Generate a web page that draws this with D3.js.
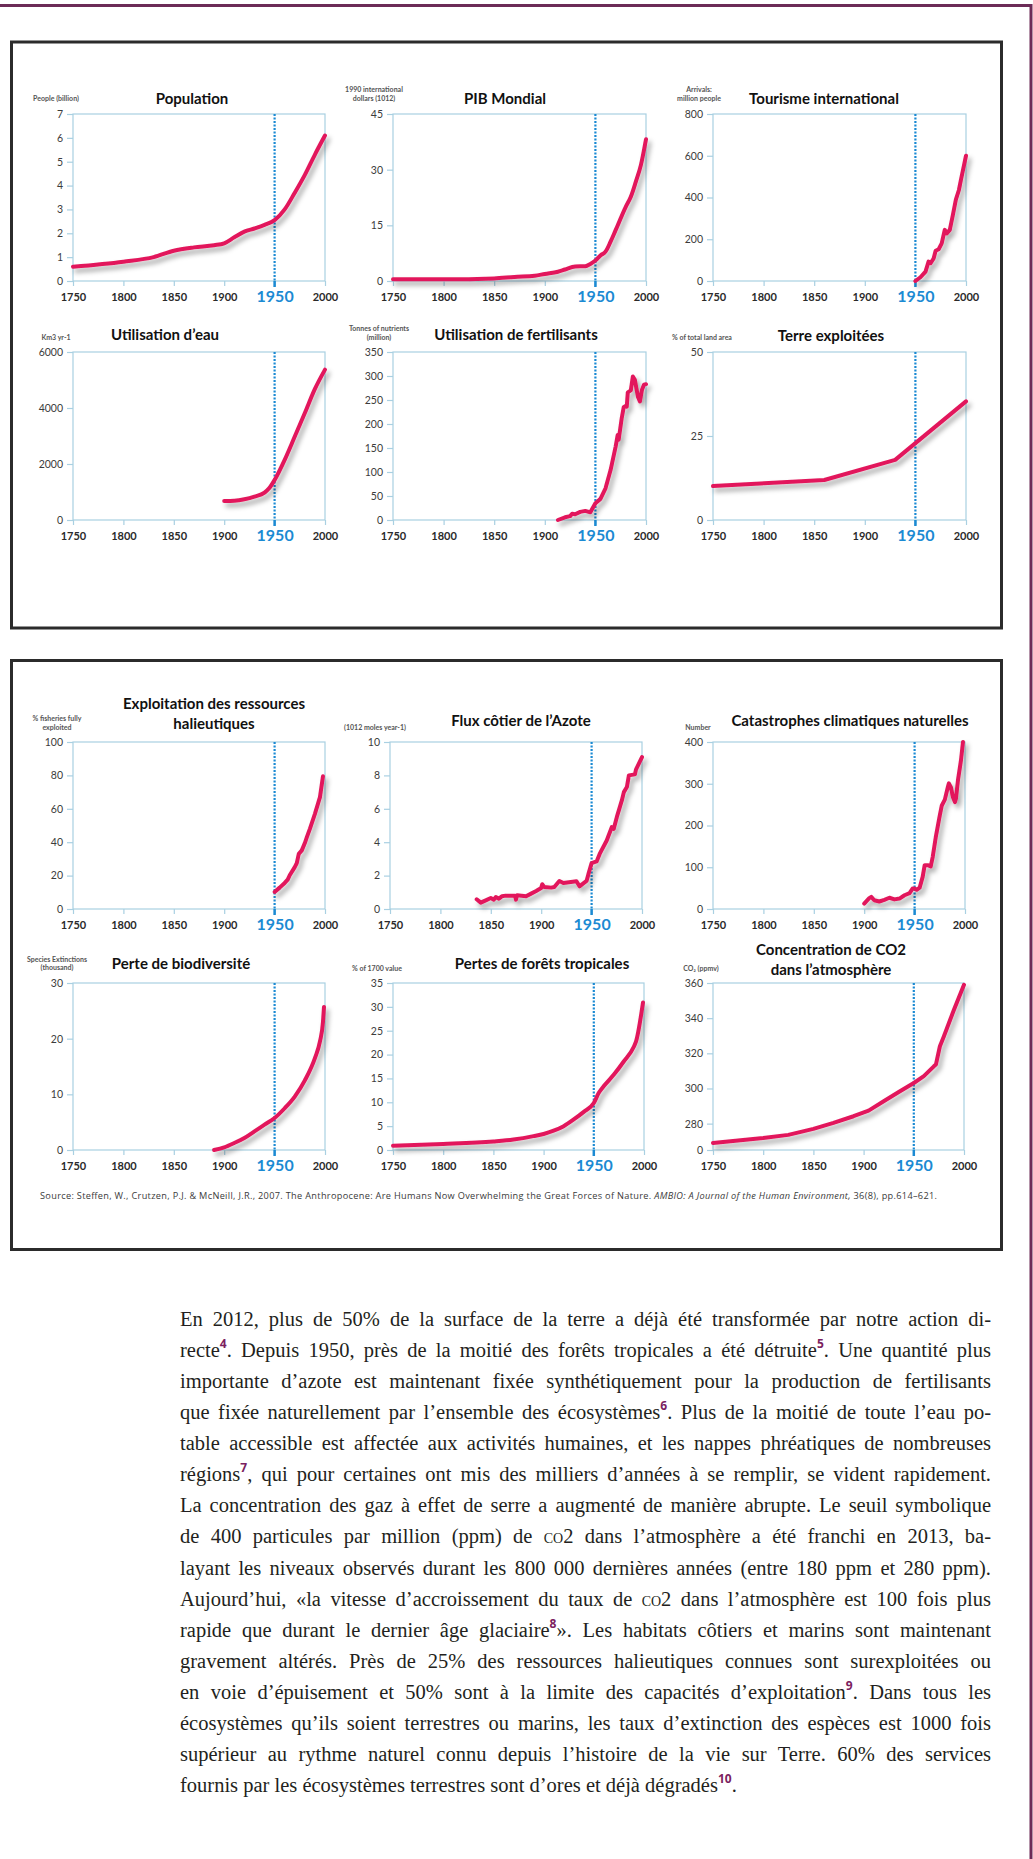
<!DOCTYPE html>
<html>
<head>
<meta charset="utf-8">
<script src="https://cdn.jsdelivr.net/npm/d3@7"></script>
<style>
  html, body { margin: 0; padding: 0; background: #fff; }
  body { width: 1033px; height: 1859px; position: relative; overflow: hidden; }
  svg { position: absolute; left: 0; top: 0; }
  .para { position: absolute; left: 180px; top: 1304px; width: 811px;
          font-family: "Liberation Serif", serif; font-size: 20.5px; color: #231f20; }
  .para div { line-height: 31.07px; height: 31.07px; text-align: justify; text-align-last: justify; }
  .para div.last { text-align-last: left; }
  .para sup { font-family: "Open Sans", sans-serif; font-weight: 700; color: #7b2160;
              font-size: 12px; vertical-align: baseline; position: relative; top: -0.75em; line-height: 0; }
  .sc { font-variant: small-caps; }
</style>
</head>
<body>
<div id="page"></div>
<script>
// ---- data ----
const xTicks = [1750, 1800, 1850, 1900, 1950, 2000];

const popYears  = [1750, 1800, 1830, 1850, 1870, 1890, 1900, 1910, 1920, 1930, 1940, 1950, 1960, 1970, 1980, 1990, 2000];
const popValues = [0.6, 0.81, 1.0, 1.27, 1.41, 1.5, 1.58, 1.83, 2.07, 2.2, 2.35, 2.55, 3.0, 3.7, 4.45, 5.3, 6.1];
const popTicks  = [0, 1, 2, 3, 4, 5, 6, 7];

const gdpYears  = [1750, 1800, 1850, 1870, 1890, 1900, 1913, 1920, 1930, 1940, 1945, 1950, 1955, 1960, 1965, 1970, 1980, 1985, 1990, 1995, 2000];
const gdpValues = [0.45, 0.45, 0.7, 1.1, 1.4, 1.9, 2.5, 3.1, 3.9, 4.0, 4.6, 5.5, 6.9, 7.9, 10.6, 13.7, 20, 22.7, 26.8, 31.3, 38.2];
const gdpTicks  = [0, 15, 30, 45];

const tourYears  = [1950, 1955, 1960, 1963, 1965, 1968, 1970, 1973, 1976, 1979, 1981, 1984, 1987, 1990, 1993, 1995, 2000];
const tourValues = [0, 18, 45, 93, 85, 108, 145, 152, 180, 245, 228, 245, 316, 390, 436, 484, 600];
const tourTicks  = [0, 200, 400, 600, 800];

const waterYears  = [1900, 1910, 1920, 1930, 1940, 1945, 1950, 1960, 1970, 1980, 1990, 2000];
const waterValues = [680, 690, 740, 835, 980, 1150, 1430, 2150, 2980, 3820, 4680, 5370];
const waterTicks  = [0, 2000, 4000, 6000];

const fertYears  = [1913, 1920, 1925, 1927, 1930, 1935, 1940, 1945, 1950, 1955, 1960, 1965, 1970, 1972, 1973, 1976, 1978, 1980, 1981, 1982, 1985, 1987, 1989, 1992, 1994, 1996, 1998, 2000];
const fertValues = [0, 5.6, 8, 13, 12, 17, 19, 16, 35, 44, 66, 104, 153, 177, 167, 212, 235, 238, 236, 266, 270, 299, 292, 257, 247, 271, 282, 283];
const fertTicks  = [0, 50, 100, 150, 200, 250, 300, 350];

const landYears  = [1750, 1860, 1930, 2000];
const landValues = [10.1, 11.9, 17.9, 35.3];
const landTicks  = [0, 25, 50];

const fishYears  = [1950, 1955, 1960, 1963, 1965, 1970, 1972, 1974, 1977, 1980, 1982, 1985, 1990, 1995, 1998];
const fishValues = [10.2, 12.8, 15.6, 17.6, 20.2, 25.1, 27.5, 33, 35.1, 39.5, 43, 48, 57, 67, 79.5];
const fishTicks  = [0, 20, 40, 60, 80, 100];

const nitroYears  = [1836, 1840, 1845, 1850, 1853, 1855, 1858, 1861, 1865, 1874, 1875, 1876, 1885, 1890, 1895, 1900, 1901, 1903, 1910, 1913, 1918, 1922, 1935, 1938, 1945, 1947, 1950, 1955, 1958, 1965, 1970, 1972, 1975, 1980, 1982, 1985, 1987, 1993, 1994, 2000];
const nitroValues = [0.58, 0.38, 0.52, 0.66, 0.56, 0.72, 0.62, 0.76, 0.8, 0.8, 0.56, 0.82, 0.76, 0.92, 1.08, 1.26, 1.48, 1.32, 1.28, 1.32, 1.68, 1.56, 1.66, 1.36, 1.68, 2.12, 2.75, 2.85, 3.3, 4.1, 4.9, 4.8, 5.5, 6.5, 7.0, 7.3, 8.0, 8.06, 8.35, 9.1];
const nitroTicks  = [0, 2, 4, 6, 8, 10];

const disYears  = [1900, 1905, 1907, 1910, 1915, 1920, 1925, 1930, 1935, 1940, 1945, 1948, 1950, 1952, 1955, 1958, 1960, 1963, 1966, 1968, 1971, 1975, 1977, 1980, 1983, 1984, 1986, 1988, 1990, 1991, 1993, 1996, 1998];
const disValues = [13, 26, 29, 21, 18, 22, 27, 23, 25, 33, 38, 49, 49, 46, 51, 77, 105, 105, 102, 125, 172, 224, 248, 262, 292, 301, 292, 268, 256, 264, 308, 356, 400];
const disTicks  = [0, 100, 200, 300, 400];

const bioYears  = [1890, 1900, 1910, 1920, 1930, 1940, 1950, 1960, 1970, 1980, 1990, 1995, 1998, 1999];
const bioValues = [0, 0.48, 1.26, 2.16, 3.35, 4.55, 5.75, 7.5, 9.6, 12.5, 16.5, 19.5, 23, 25.7];
const bioTicks  = [0, 10, 20, 30];

const forestYears  = [1750, 1800, 1850, 1870, 1890, 1900, 1910, 1920, 1930, 1940, 1950, 1955, 1960, 1970, 1980, 1990, 1992, 1999];
const forestValues = [0.9, 1.26, 1.8, 2.2, 2.9, 3.35, 4.05, 5.0, 6.4, 8.0, 9.85, 12, 13.4, 15.8, 18.6, 21.7, 22.7, 30.9];
const forestTicks  = [0, 5, 10, 15, 20, 25, 30, 35];

const co2Years  = [1750, 1800, 1825, 1850, 1870, 1890, 1905, 1920, 1935, 1950, 1960, 1970, 1972, 1976, 1980, 1990, 2000];
const co2Values = [269, 271.8, 273.6, 277, 280.4, 284.2, 287.4, 292.7, 298, 303.1, 307, 312.6, 313.6, 324, 329.7, 344.8, 359];
const co2Ticks  = [265, 280, 300, 320, 340, 360];
const co2TickLabels = ["0", "280", "300", "320", "340", "360"];

// ---- layout ----
const W = 1033, H = 1859;
const red = "#e2185b", blue = "#1b8ad3", frame = "#a9d0e2", maroon = "#6c2b57";
const sans = "Lato, 'Open Sans', sans-serif";

const charts = [
  { title: ["Population"], tx: 192, ty: [104], ylab: ["People (billion)"], lx: 56, ly: [101],
    x0: 73, x1: 325, y0: 114, y1: 281, domain: [0, 7], ticks: popTicks, years: popYears, values: popValues, smooth: true },
  { title: ["PIB Mondial"], tx: 505, ty: [104], ylab: ["1990 international", "dollars (1012)"], lx: 374, ly: [92, 101],
    x0: 393, x1: 646, y0: 114, y1: 281, domain: [0, 45], ticks: gdpTicks, years: gdpYears, values: gdpValues, smooth: true },
  { title: ["Tourisme international"], tx: 824, ty: [104], ylab: ["Arrivals:", "million people"], lx: 699, ly: [92, 101],
    x0: 713, x1: 966, y0: 114, y1: 281, domain: [0, 800], ticks: tourTicks, years: tourYears, values: tourValues },
  { title: ["Utilisation d’eau"], tx: 165, ty: [340], ylab: ["Km3 yr-1"], lx: 56, ly: [339.5],
    x0: 73, x1: 325, y0: 352, y1: 520, domain: [0, 6000], ticks: waterTicks, years: waterYears, values: waterValues, smooth: true },
  { title: ["Utilisation de fertilisants"], tx: 516, ty: [340], ylab: ["Tonnes of nutrients", "(million)"], lx: 379, ly: [330.5, 339.5],
    x0: 393, x1: 646, y0: 352, y1: 520, domain: [0, 350], ticks: fertTicks, years: fertYears, values: fertValues },
  { title: ["Terre exploitées"], tx: 831, ty: [341], ylab: ["% of total land area"], lx: 702, ly: [339.5],
    x0: 713, x1: 966, y0: 352, y1: 520, domain: [0, 50], ticks: landTicks, years: landYears, values: landValues },
  { title: ["Exploitation des ressources", "halieutiques"], tx: 214, ty: [709, 729], ylab: ["% fisheries fully", "exploited"], lx: 57, ly: [720.5, 729.5],
    x0: 73, x1: 325, y0: 742, y1: 909, domain: [0, 100], ticks: fishTicks, years: fishYears, values: fishValues },
  { title: ["Flux côtier de l’Azote"], tx: 521, ty: [726], ylab: ["(1012 moles year-1)"], lx: 375, ly: [729.5],
    x0: 390, x1: 642, y0: 742, y1: 909, domain: [0, 10], ticks: nitroTicks, years: nitroYears, values: nitroValues },
  { title: ["Catastrophes climatiques naturelles"], tx: 850, ty: [726], ylab: ["Number"], lx: 698, ly: [729.5],
    x0: 713, x1: 965, y0: 742, y1: 909, domain: [0, 400], ticks: disTicks, years: disYears, values: disValues },
  { title: ["Perte de biodiversité"], tx: 181, ty: [968.5], ylab: ["Species Extinctions", "(thousand)"], lx: 57, ly: [961.5, 969.5],
    x0: 73, x1: 325, y0: 983, y1: 1150, domain: [0, 30], ticks: bioTicks, years: bioYears, values: bioValues, smooth: true },
  { title: ["Pertes de forêts tropicales"], tx: 542, ty: [968.5], ylab: ["% of 1700 value"], lx: 377, ly: [970.5],
    x0: 393, x1: 644, y0: 983, y1: 1150, domain: [0, 35], ticks: forestTicks, years: forestYears, values: forestValues, smooth: true },
  { title: ["Concentration de CO2", "dans l’atmosphère"], tx: 831, ty: [955, 975], ylab: ["CO₂ (ppmv)"], lx: 701, ly: [970.5],
    x0: 713, x1: 964, y0: 983, y1: 1150, domain: [265, 360], ticks: co2Ticks, tickLabels: co2TickLabels, years: co2Years, values: co2Values }
];

const paraLines = [
  "En 2012, plus de 50% de la surface de la terre a déjà été transformée par notre action di-",
  "recte<sup>4</sup>. Depuis 1950, près de la moitié des forêts tropicales a été détruite<sup>5</sup>. Une quantité plus",
  "importante d’azote est maintenant fixée synthétiquement pour la production de fertilisants",
  "que fixée naturellement par l’ensemble des écosystèmes<sup>6</sup>. Plus de la moitié de toute l’eau po-",
  "table accessible est affectée aux activités humaines, et les nappes phréatiques de nombreuses",
  "régions<sup>7</sup>, qui pour certaines ont mis des milliers d’années à se remplir, se vident rapidement.",
  "La concentration des gaz à effet de serre a augmenté de manière abrupte. Le seuil symbolique",
  "de 400 particules par million (ppm) de <span class=\"sc\">co2</span> dans l’atmosphère a été franchi en 2013, ba-",
  "layant les niveaux observés durant les 800 000 dernières années (entre 180 ppm et 280 ppm).",
  "Aujourd’hui, «la vitesse d’accroissement du taux de <span class=\"sc\">co2</span> dans l’atmosphère est 100 fois plus",
  "rapide que durant le dernier âge glaciaire<sup>8</sup>». Les habitats côtiers et marins sont maintenant",
  "gravement altérés. Près de 25% des ressources halieutiques connues sont surexploitées ou",
  "en voie d’épuisement et 50% sont à la limite des capacités d’exploitation<sup>9</sup>. Dans tous les",
  "écosystèmes qu’ils soient terrestres ou marins, les taux d’extinction des espèces est 1000 fois",
  "supérieur au rythme naturel connu depuis l’histoire de la vie sur Terre. 60% des services",
  "fournis par les écosystèmes terrestres sont d’ores et déjà dégradés<sup>10</sup>."
];

// ---- drawing ----
const svg = d3.select("#page").append("svg").attr("width", W).attr("height", H);

const defs = svg.append("defs");
defs.append("filter").attr("id", "shadow")
  .attr("x", "-20%").attr("y", "-20%").attr("width", "140%").attr("height", "140%")
  .append("feDropShadow")
  .attr("dx", 3).attr("dy", 4).attr("stdDeviation", 2.5)
  .attr("flood-color", "#000").attr("flood-opacity", 0.35);

// page border (top and right)
svg.append("line").attr("x1", 0).attr("x2", 1032).attr("y1", 5.5).attr("y2", 5.5)
  .attr("stroke", maroon).attr("stroke-width", 3);
svg.append("line").attr("x1", 1031).attr("x2", 1031).attr("y1", 4).attr("y2", H)
  .attr("stroke", maroon).attr("stroke-width", 3);

// boxes
svg.append("rect").attr("x", 11.5).attr("y", 42).attr("width", 990).attr("height", 586)
  .attr("fill", "none").attr("stroke", "#2b2b2b").attr("stroke-width", 3);
svg.append("rect").attr("x", 11.5).attr("y", 660.5).attr("width", 990).attr("height", 589)
  .attr("fill", "none").attr("stroke", "#2b2b2b").attr("stroke-width", 3);

charts.forEach(c => {
  const x = d3.scaleLinear().domain([1750, 2000]).range([c.x0, c.x1]);
  const y = d3.scaleLinear().domain(c.domain).range([c.y1, c.y0]);
  const g = svg.append("g");

  // frame
  g.append("rect")
    .attr("x", c.x0).attr("y", c.y0)
    .attr("width", c.x1 - c.x0).attr("height", c.y1 - c.y0)
    .attr("fill", "none").attr("stroke", frame).attr("stroke-width", 1.2);

  // y axis
  const ya = g.append("g")
    .attr("transform", "translate(" + c.x0 + ",0)")
    .call(d3.axisLeft(y).tickValues(c.ticks).tickSize(6).tickPadding(4)
      .tickFormat(d => c.tickLabels ? c.tickLabels[c.ticks.indexOf(d)] : d));
  ya.select(".domain").remove();
  ya.selectAll("line").attr("stroke", frame).attr("stroke-width", 1.2);
  ya.selectAll("text")
    .attr("fill", "#3c3c3c")
    .style("font-family", sans).style("font-size", "10.5px");

  // x axis
  const xa = g.append("g")
    .attr("transform", "translate(0," + c.y1 + ")")
    .call(d3.axisBottom(x).tickValues(xTicks).tickSize(5).tickFormat(d3.format("d")));
  xa.select(".domain").remove();
  xa.selectAll("line").attr("stroke", frame).attr("stroke-width", 1.2);
  xa.selectAll("text")
    .attr("y", 19.5).attr("dy", 0)
    .attr("fill", "#2a2a2a")
    .style("font-family", sans).style("font-size", "11px").style("font-weight", 700);
  xa.selectAll("text").filter(d => d === 1950)
    .attr("y", 20.5)
    .attr("fill", blue).style("font-size", "16px");

  // 1950 marker
  g.append("line")
    .attr("x1", x(1950)).attr("x2", x(1950))
    .attr("y1", c.y0).attr("y2", c.y1)
    .attr("stroke", blue).attr("stroke-width", 2.2).attr("stroke-dasharray", "2,1.5");
  g.append("line")
    .attr("x1", x(1950)).attr("x2", x(1950))
    .attr("y1", c.y1).attr("y2", c.y1 + 6)
    .attr("stroke", blue).attr("stroke-width", 2.5);

  // series
  const line = d3.line()
    .x(d => x(d[0])).y(d => y(d[1]))
    .curve(c.smooth ? d3.curveMonotoneX : d3.curveLinear);
  g.append("path")
    .datum(d3.zip(c.years, c.values))
    .attr("d", line)
    .attr("fill", "none").attr("stroke", red).attr("stroke-width", 4)
    .attr("stroke-linejoin", "round").attr("stroke-linecap", "round")
    .attr("filter", "url(#shadow)");

  // title
  const t = g.append("text")
    .attr("text-anchor", "middle")
    .style("font-family", sans).style("font-weight", 700).style("font-size", "15px")
    .attr("fill", "#111");
  c.title.forEach((s, i) => t.append("tspan").attr("x", c.tx).attr("y", c.ty[i]).text(s));

  // unit label
  const u = g.append("text")
    .attr("text-anchor", "middle")
    .style("font-family", sans).style("font-weight", 700).style("font-size", "7px")
    .attr("fill", "#555");
  c.ylab.forEach((s, i) => u.append("tspan").attr("x", c.lx).attr("y", c.ly[i]).text(s));
});

// source line
const src = svg.append("text")
  .attr("x", 40).attr("y", 1199)
  .attr("textLength", 897).attr("lengthAdjust", "spacing")
  .style("font-family", "'Open Sans', sans-serif").style("font-size", "9.2px")
  .attr("fill", "#3a3a3a");
src.append("tspan").text("Source: Steffen,  W., Crutzen,  P.J. & McNeill, J.R.,  2007. The Anthropocene: Are Humans Now Overwhelming the Great Forces of Nature. ");
src.append("tspan").style("font-style", "italic").text("AMBIO: A Journal of the Human Environment,");
src.append("tspan").text("  36(8), pp.614–621.");

// paragraph
const para = d3.select("body").append("div").attr("class", "para");
para.selectAll("div").data(paraLines).enter().append("div")
  .attr("class", (d, i) => i === paraLines.length - 1 ? "last" : null)
  .html(d => d);
</script>
</body>
</html>
